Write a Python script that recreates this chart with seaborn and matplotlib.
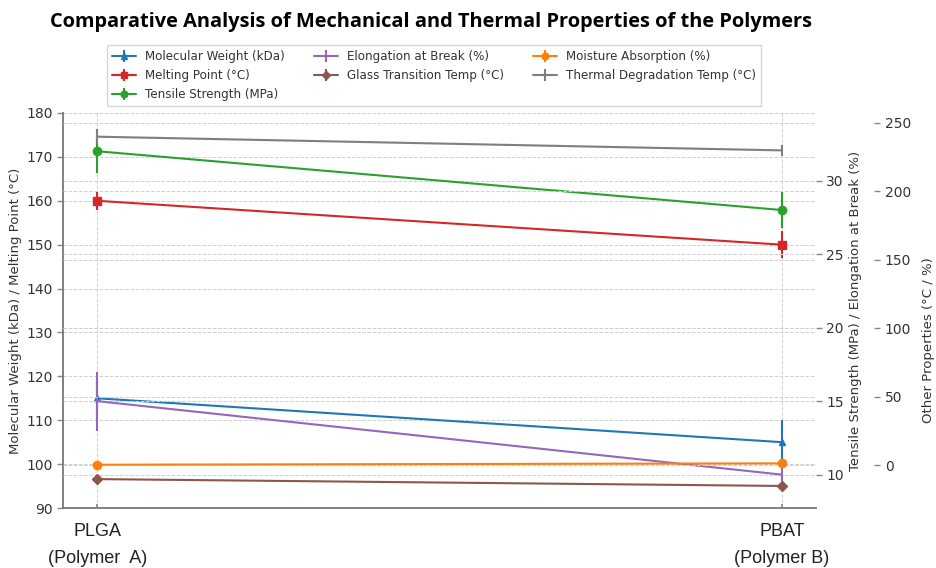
import numpy as np
import matplotlib
matplotlib.use("Agg")
import matplotlib.pyplot as plt
import seaborn as sns

# Polymers compared
polymers = ["PLGA\n(Polymer  A)", "PBAT\n(Polymer B)"]

# Left axis: molecular weight (kDa) and melting point (°C)
mol_weight = [115, 105]
mol_weight_err = [5, 5]
melting_point = [160, 150]
melting_point_err = [2, 3]

# First right axis: tensile strength (MPa) and elongation at break (%)
tensile_strength = [32, 28]
tensile_strength_err = [1.5, 1.2]
elongation = [15, 10]
elongation_err = [2, 1]

# Second right axis: other properties (°C / %)
glass_transition = [-10, -15]
glass_transition_err = [1, 1.5]
moisture = [0.5, 1.5]
moisture_err = [0.2, 0.3]
thermal_degradation = [240, 230]
thermal_degradation_err = [5, 4]

sns.set_theme(style="ticks")
plt.rcParams["font.family"] = ["DejaVu Sans"]
pal = sns.color_palette("tab10")

fig = plt.figure(figsize=(9.37, 5.68), dpi=100)
W, H = 937, 568
ax = fig.add_axes([63 / W, 1 - 508 / H, 753 / W, 395 / H])
ax2 = ax.twinx()
ax3 = ax.twinx()
ax3.spines["right"].set_position(("outward", 42))

x = np.arange(len(polymers))
kw = dict(capsize=0, linewidth=1.5, elinewidth=1.5)

h_mw = ax.errorbar(x, mol_weight, yerr=mol_weight_err, color=pal[0], marker="^",
                   markersize=5, label="Molecular Weight (kDa)", **kw)
h_mp = ax.errorbar(x, melting_point, yerr=melting_point_err, color=pal[3], marker="s",
                   markersize=6, label="Melting Point (°C)", **kw)
h_ts = ax2.errorbar(x, tensile_strength, yerr=tensile_strength_err, color=pal[2], marker="o",
                    markersize=6, label="Tensile Strength (MPa)", **kw)
h_el = ax2.errorbar(x, elongation, yerr=elongation_err, color=pal[4], marker="",
                    label="Elongation at Break (%)", **kw)
h_gt = ax3.errorbar(x, glass_transition, yerr=glass_transition_err, color=pal[5], marker="D",
                    markersize=5, label="Glass Transition Temp (°C)", **kw)
h_ma = ax3.errorbar(x, moisture, yerr=moisture_err, color=pal[1], marker="o",
                    markersize=6, label="Moisture Absorption (%)", **kw)
h_td = ax3.errorbar(x, thermal_degradation, yerr=thermal_degradation_err, color=pal[7], marker="",
                    label="Thermal Degradation Temp (°C)", **kw)

ax.set_xlim(-0.05, 1.05)
ax.set_ylim(90, 180)
ax2.set_ylim(7.73, 34.6)
ax3.set_ylim(-31.1, 257.3)

ax.set_xticks(x)
ax.set_xticklabels(polymers, fontsize=13, family="Liberation Sans", color="#222222",
                   linespacing=1.75)
ax.tick_params(axis="x", direction="in", length=3, pad=11, color="#888888")
ax.set_yticks(np.arange(90, 181, 10))
ax2.set_yticks(np.arange(10, 31, 5))
ax3.set_yticks(np.arange(0, 251, 50))

for a in (ax, ax2, ax3):
    a.tick_params(axis="y", direction="out", length=4, width=1, color="#888888",
                  labelsize=10, labelcolor="#333333")
    a.grid(True, axis="y", linestyle="--", linewidth=0.7, color="#d0d0d0")
    for s in a.spines.values():
        s.set_visible(False)
ax.grid(True, axis="x", linestyle="--", linewidth=0.7, color="#d0d0d0")
ax.spines["left"].set_visible(True)
ax.spines["bottom"].set_visible(True)
ax.spines["left"].set_color("#777777")
ax.spines["bottom"].set_color("#777777")
ax.spines["left"].set_linewidth(1.3)
ax.spines["bottom"].set_linewidth(1.3)

ax.set_ylabel("Molecular Weight (kDa) / Melting Point (°C)", fontsize=9.5, color="#333333")
ax2.set_ylabel("Tensile Strength (MPa) / Elongation at Break (%)", fontsize=9.5, color="#333333")
ax3.set_ylabel("Other Properties (°C / %)", fontsize=9.5, color="#333333")
ax.yaxis.set_label_coords(-0.055, 0.5)
ax2.yaxis.set_label_coords(1.044, 0.5)
ax3.yaxis.set_label_coords(1.141, 0.425)
ax2.yaxis.label.set_rotation(90)
ax3.yaxis.label.set_rotation(90)

handles = [h_mw, h_mp, h_ts, h_el, h_gt, h_ma, h_td]
labels = [h.get_label() for h in handles]
ax3.legend(handles, labels, loc="lower center", bbox_to_anchor=(0.493, 1.018), ncol=3,
           fontsize=8.6, frameon=True, edgecolor="#cccccc", fancybox=False,
           columnspacing=2.4, labelcolor="#333333", markerscale=0.8, borderaxespad=0)

fig.text(0.46, 1 - 22 / H,
         "Comparative Analysis of Mechanical and Thermal Properties of the Polymers",
         ha="center", va="center", fontsize=14.4, fontweight="bold", family="Open Sans",
         color="black")

fig.savefig("out.png", dpi=100, facecolor="white")
